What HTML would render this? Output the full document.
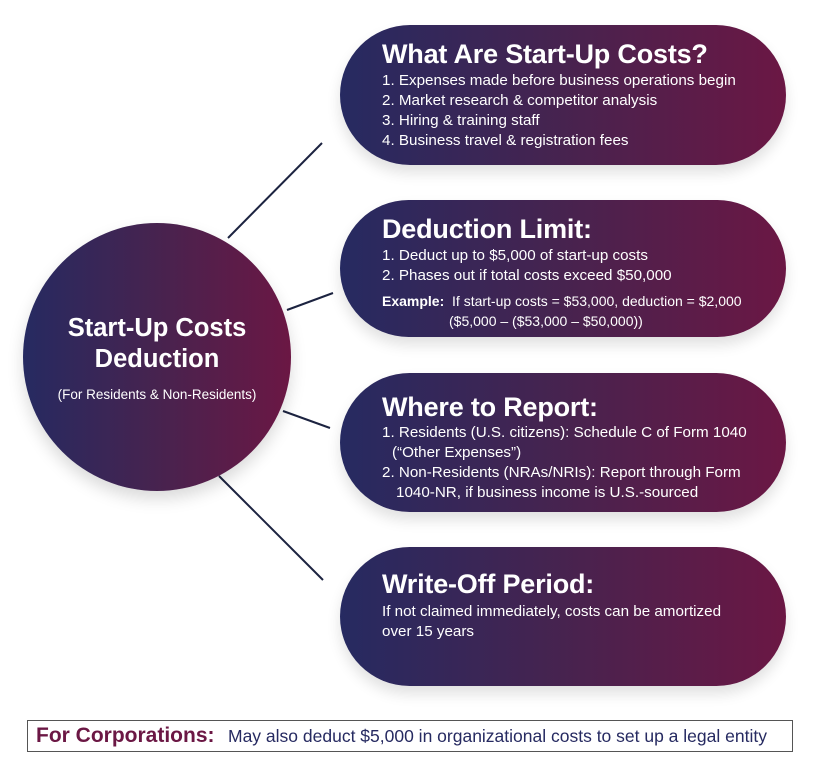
<!DOCTYPE html>
<html><head><meta charset="utf-8"><style>
body{margin:0;width:813px;height:777px;background:#fff;position:relative;overflow:hidden;font-family:"Liberation Sans",sans-serif;}
.pill{position:absolute;left:340px;width:446px;border-radius:75px;background:linear-gradient(90deg,#262a61 0%,#47234f 50%,#6b1744 100%);box-shadow:0 8px 14px rgba(0,0,0,0.12);color:#fff;}
.t{position:absolute;left:42px;font-weight:bold;font-size:27px;letter-spacing:-0.2px;white-space:nowrap;}
.l{position:absolute;left:42px;font-size:15.2px;white-space:nowrap;}
.circle{position:absolute;left:23px;top:223px;width:268px;height:268px;border-radius:50%;background:linear-gradient(90deg,#262a61 0%,#47234f 50%,#6b1744 100%);box-shadow:0 8px 16px rgba(0,0,0,0.15);color:#fff;text-align:center;}
.box{position:absolute;left:27px;top:720px;width:764px;height:30px;border:1px solid #555;background:#fff;white-space:nowrap;}
</style></head><body>
<svg width="813" height="777" style="position:absolute;left:0;top:0">
<g stroke="#1c2340" stroke-width="2">
<line x1="228" y1="238" x2="322" y2="143"/>
<line x1="287" y1="310" x2="333" y2="293"/>
<line x1="283" y1="411" x2="330" y2="428"/>
<line x1="219" y1="476" x2="323" y2="580"/>
</g></svg>
<div class="circle">
<div style="position:absolute;top:90px;width:100%;font-weight:bold;font-size:25.5px;line-height:31px">Start-Up Costs<br>Deduction</div>
<div style="position:absolute;top:164px;width:100%;font-size:13.5px">(For Residents &amp; Non-Residents)</div>
</div>
<div class="pill" style="top:25px;height:140px">
<div class="t" style="top:14px">What Are Start-Up Costs?</div>
<div class="l" style="top:47px">1. Expenses made before business operations begin</div>
<div class="l" style="top:67px">2. Market research &amp; competitor analysis</div>
<div class="l" style="top:87px">3. Hiring &amp; training staff</div>
<div class="l" style="top:107px">4. Business travel &amp; registration fees</div>
</div>
<div class="pill" style="top:200px;height:137px">
<div class="t" style="top:14px">Deduction Limit:</div>
<div class="l" style="top:47px">1. Deduct up to $5,000 of start-up costs</div>
<div class="l" style="top:67px">2. Phases out if total costs exceed $50,000</div>
<div class="l" style="top:93px;font-size:14px"><b>Example:</b>&nbsp; If start-up costs = $53,000, deduction = $2,000</div>
<div class="l" style="top:113px;left:109px;font-size:14px">($5,000 – ($53,000 – $50,000))</div>
</div>
<div class="pill" style="top:373px;height:139px">
<div class="t" style="top:19px">Where to Report:</div>
<div class="l" style="top:51px">1. Residents (U.S. citizens): Schedule C of Form 1040</div>
<div class="l" style="top:71px;left:52px">(“Other Expenses”)</div>
<div class="l" style="top:91px">2. Non-Residents (NRAs/NRIs): Report through Form</div>
<div class="l" style="top:111px;left:56px">1040-NR, if business income is U.S.-sourced</div>
</div>
<div class="pill" style="top:547px;height:139px">
<div class="t" style="top:22px">Write-Off Period:</div>
<div class="l" style="top:56px">If not claimed immediately, costs can be amortized</div>
<div class="l" style="top:76px">over 15 years</div>
</div>
<div class="box"><span style="position:absolute;left:8px;top:3px;color:#6b1744;font-weight:bold;font-size:21px">For Corporations:</span><span style="position:absolute;left:200px;top:5px;color:#262a61;font-size:17.5px">May also deduct $5,000 in organizational costs to set up a legal entity</span></div>
</body></html>
